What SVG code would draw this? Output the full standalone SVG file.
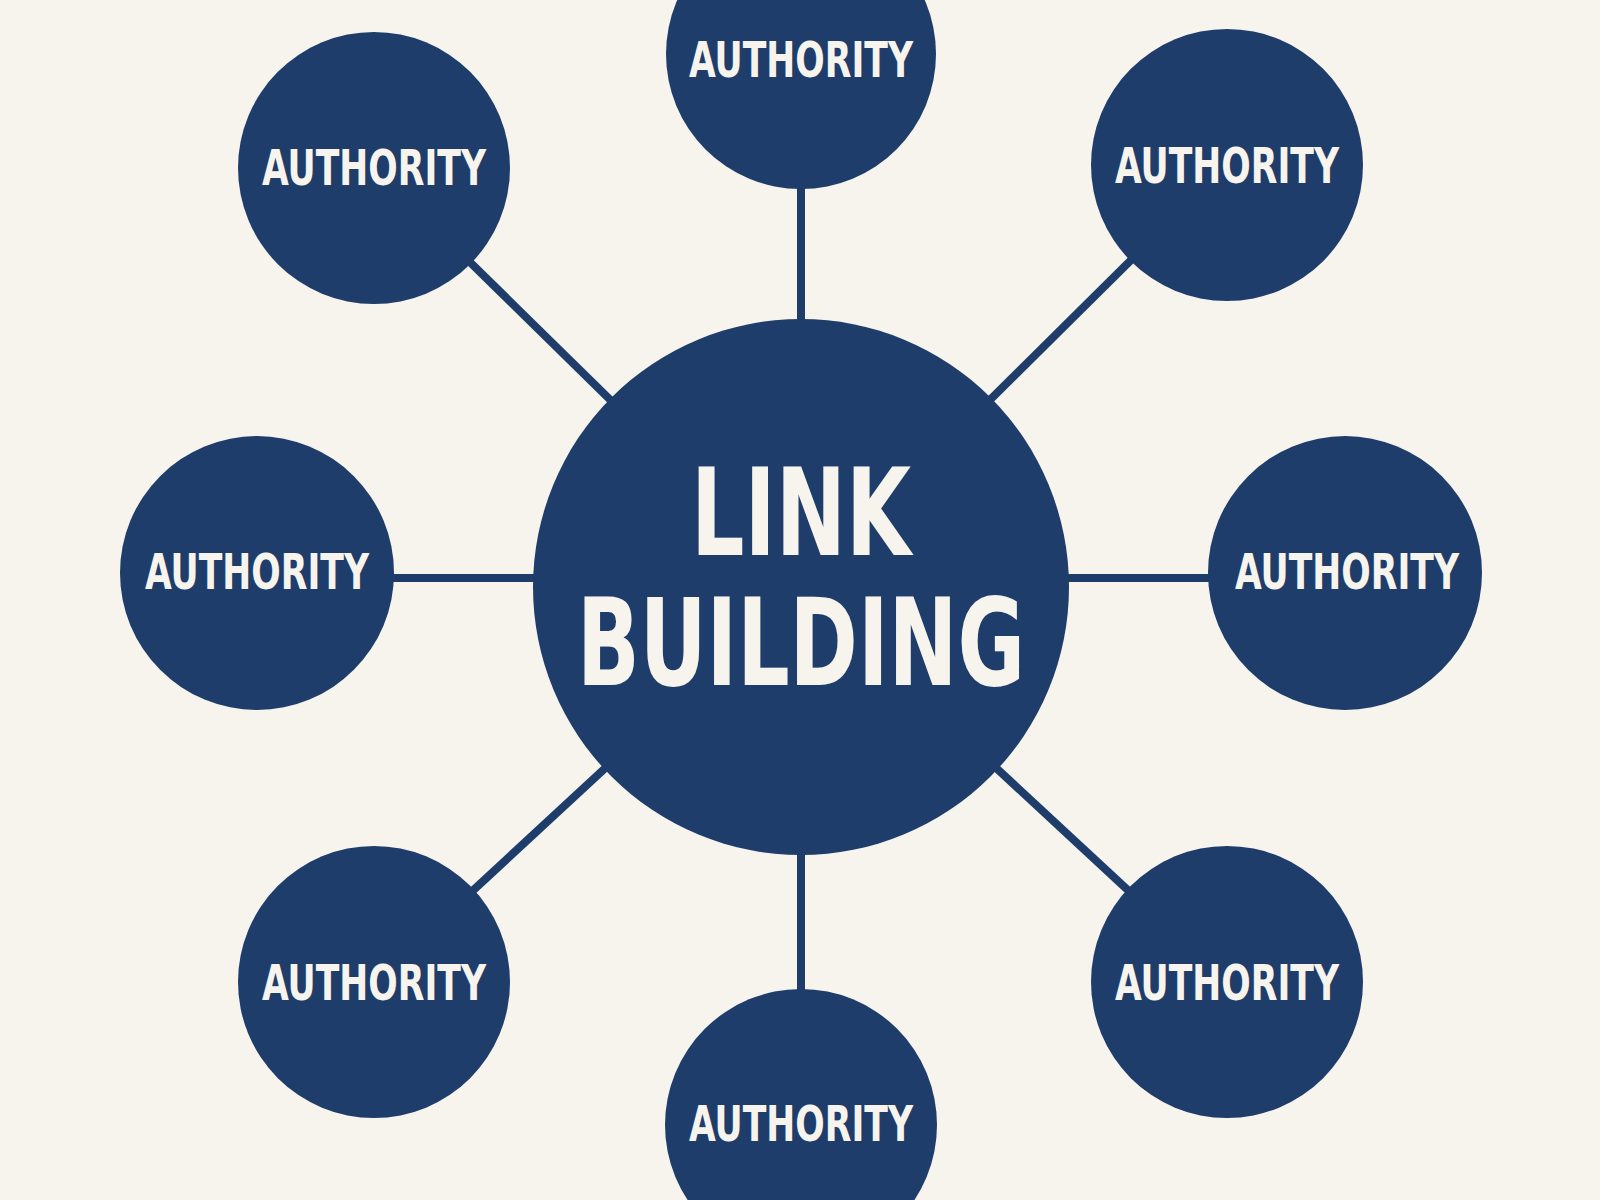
<svg xmlns="http://www.w3.org/2000/svg" width="1600" height="1200" viewBox="0 0 1600 1200">
<style>
.n{fill:#1f3d6b}
.c{stroke:#1f3d6b;stroke-width:8}
.t{fill:#f7f4ee;font-family:"DejaVu Sans Condensed","DejaVu Sans","Liberation Sans",sans-serif;font-weight:bold;text-anchor:middle}
.s{font-size:50px}
.b{font-size:122px}
</style>
<rect width="1600" height="1200" fill="#f7f4ee"/>
<g id="connectors">
<line class="c" x1="801" y1="54" x2="801" y2="587"/>
<line class="c" x1="374" y1="168" x2="801" y2="587"/>
<line class="c" x1="1227" y1="165" x2="801" y2="587"/>
<line class="c" x1="257" y1="578" x2="1345" y2="578"/>
<line class="c" x1="374" y1="982" x2="801" y2="587"/>
<line class="c" x1="1227" y1="982" x2="801" y2="587"/>
<line class="c" x1="801" y1="1122" x2="801" y2="587"/>
</g>
<g id="center"><circle class="n" cx="801" cy="587" r="268"/>
<text class="t b" x="801" y="555" textLength="220" lengthAdjust="spacingAndGlyphs">LINK</text>
<text class="t b" x="801" y="685" textLength="448" lengthAdjust="spacingAndGlyphs">BUILDING</text></g>
<g id="n1"><circle class="n" cx="801" cy="54" r="135"/><text class="t s" x="801" y="77" textLength="224" lengthAdjust="spacingAndGlyphs">AUTHORITY</text></g>
<g id="n2"><circle class="n" cx="374" cy="168" r="136"/><text class="t s" x="374" y="185" textLength="224" lengthAdjust="spacingAndGlyphs">AUTHORITY</text></g>
<g id="n3"><circle class="n" cx="1227" cy="165" r="136"/><text class="t s" x="1227" y="183" textLength="224" lengthAdjust="spacingAndGlyphs">AUTHORITY</text></g>
<g id="n4"><circle class="n" cx="257" cy="573" r="137"/><text class="t s" x="257" y="589" textLength="224" lengthAdjust="spacingAndGlyphs">AUTHORITY</text></g>
<g id="n5"><circle class="n" cx="1345" cy="573" r="137"/><text class="t s" x="1347" y="589" textLength="224" lengthAdjust="spacingAndGlyphs">AUTHORITY</text></g>
<g id="n6"><circle class="n" cx="374" cy="982" r="136"/><text class="t s" x="374" y="1000" textLength="224" lengthAdjust="spacingAndGlyphs">AUTHORITY</text></g>
<g id="n7"><circle class="n" cx="1227" cy="982" r="136"/><text class="t s" x="1227" y="1000" textLength="224" lengthAdjust="spacingAndGlyphs">AUTHORITY</text></g>
<g id="n8"><circle class="n" cx="801" cy="1125" r="136"/><text class="t s" x="801" y="1141" textLength="224" lengthAdjust="spacingAndGlyphs">AUTHORITY</text></g>
</svg>
